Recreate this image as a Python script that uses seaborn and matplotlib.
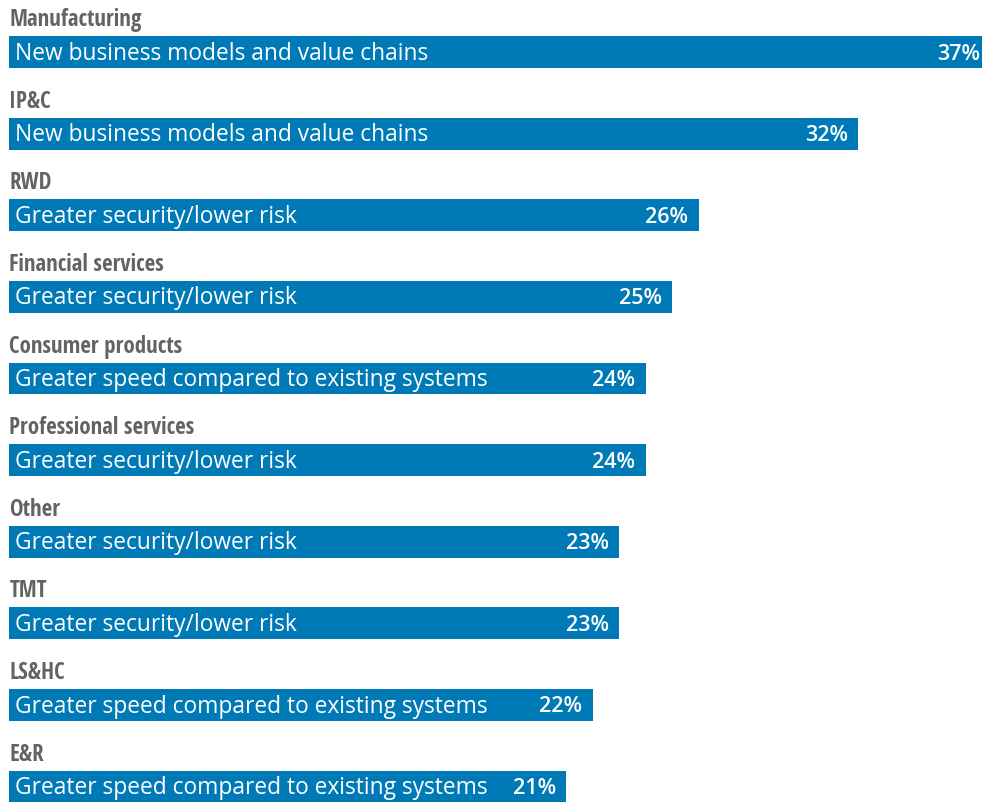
import matplotlib
matplotlib.use("Agg")
import matplotlib.pyplot as plt
from matplotlib import font_manager
import seaborn as sns
import pandas as pd

industries = ["Manufacturing", "IP&C", "RWD", "Financial services", "Consumer products",
              "Professional services", "Other", "TMT", "LS&HC", "E&R"]
top_reasons = ["New business models and value chains",
               "New business models and value chains",
               "Greater security/lower risk",
               "Greater security/lower risk",
               "Greater speed compared to existing systems",
               "Greater security/lower risk",
               "Greater security/lower risk",
               "Greater security/lower risk",
               "Greater speed compared to existing systems",
               "Greater speed compared to existing systems"]
shares = [37, 32, 26, 25, 24, 24, 23, 23, 22, 21]

df = pd.DataFrame({"industry": industries, "reason": top_reasons, "share": shares})

sns.set_theme(style="white")
installed = {f.name for f in font_manager.fontManager.ttflist}
head_font = "Open Sans Condensed" if "Open Sans Condensed" in installed else "Open Sans"
body_font = "Open Sans" if "Open Sans" in installed else "DejaVu Sans"
plt.rcParams["font.family"] = [body_font, "DejaVu Sans"]

BLUE = "#007AB7"
GREY = "#626366"

fig = plt.figure(figsize=(9.82, 8.02), dpi=100)
ax = fig.add_axes([0, 0, 1, 1])

sns.barplot(data=df, x="share", y="industry", order=industries, orient="h",
            color=BLUE, saturation=1, width=0.39, linewidth=0, ax=ax)

ax.set_xlim(-0.33, 36.66)
ax.set_ylim(9.19, -0.637)
ax.axis("off")

for i, (name, reason, val) in enumerate(zip(industries, top_reasons, shares)):
    ax.text(0.02, i - 0.39, name, ha="left", va="center", fontsize=16.5,
            fontweight="bold", color=GREY, family=[head_font, "DejaVu Sans"])
    ax.text(0.245, i + 0.02, reason, ha="left", va="center", fontsize=16.4,
            color="white")
    ax.text(val - 0.40, i + 0.025, f"{val}%", ha="right", va="center", fontsize=15.5,
            fontweight="semibold", color="white")

fig.savefig("out.png", dpi=100)
